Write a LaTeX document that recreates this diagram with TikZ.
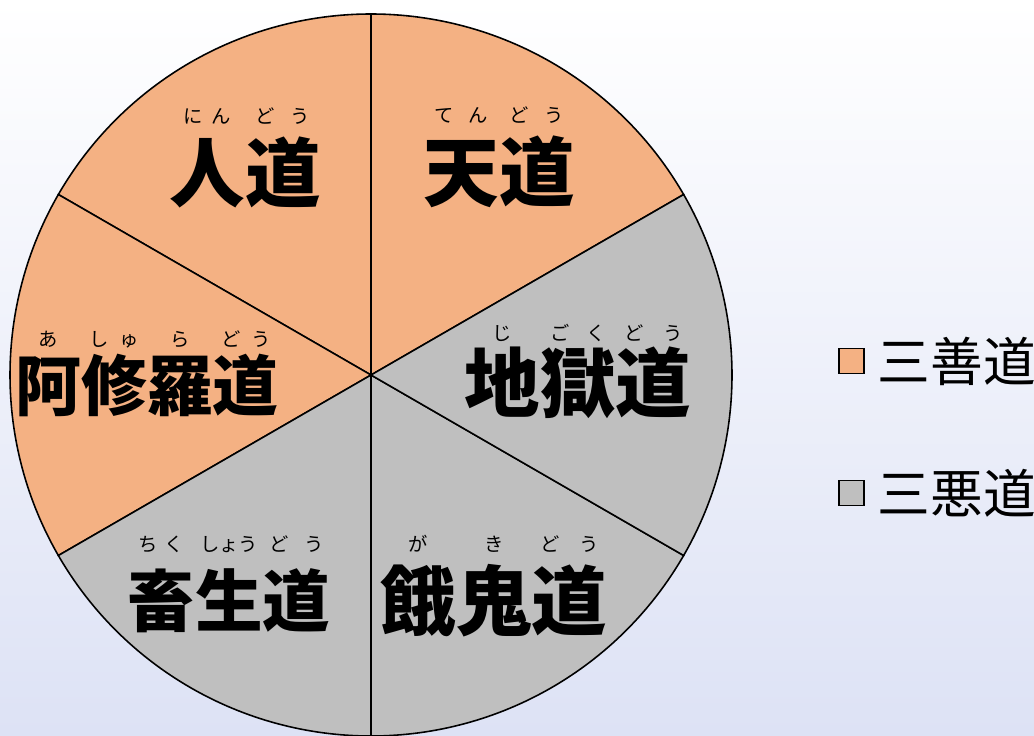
\documentclass[tikz,border=0pt]{standalone}
\usepackage{fontspec}
\newfontfamily\jp{Noto Sans CJK JP}
\usetikzlibrary{positioning}
\definecolor{zenorange}{RGB}{244,177,131}
\definecolor{akugray}{RGB}{191,191,191}
\definecolor{bglav}{RGB}{221,226,245}
% ruby: reading set centred above one kanji
\newcommand\rb[3][1.03em]{\setbox0\hbox{#2}\rlap{\makebox[\wd0]{\raisebox{#1}[0pt][0pt]{\fontsize{11}{11}\selectfont\mdseries #3}}}\box0}

\begin{document}
\begin{tikzpicture}[x=0.02cm,y=0.02cm,
    sector/.style={draw=black,line width=0.9pt},
    michi/.style={inner sep=0pt,font=\jp\bfseries\fontsize{43}{43}\selectfont},
    legbox/.style={draw=black,line width=0.6pt,minimum size=0.5cm,inner sep=0pt},
    legtext/.style={inner sep=0pt,font=\jp\fontsize{30}{30}\selectfont}]
    \shade[top color=white,bottom color=bglav] (0,0) rectangle (1034,735);
    \useasboundingbox (0,0) rectangle (1034,735);
    \coordinate (o) at (371,360);
    % six sectors of the wheel
    \foreach \a/\c in {30/zenorange,90/zenorange,150/zenorange,210/akugray,270/akugray,330/akugray}
        \filldraw[fill=\c,sector] (o) -- ++(\a:361) arc[start angle=\a,end angle=\a+60,radius=361] -- cycle;
    \node[michi] (ningen) at (245,563) {\rb{人}{に\hspace{.45em}ん}\rb{道}{ど\hspace{.8em}う}};
    \node[michi] (ten) at (499,563) {\rb{天}{て\hspace{.75em}ん}\rb{道}{ど\hspace{.85em}う}};
    \node[michi,font=\jp\bfseries\fontsize{37.5}{37.5}\selectfont] (ashura) at (147,350)
        {\rb[.96em]{阿}{あ}\rb[.96em]{修}{し\hspace{.55em}ゅ}\rb[.96em]{羅}{ら}\rb[.96em]{道}{ど\hspace{.55em}う}};
    \node[michi] (jigoku) at (578,352) {\rb[.94em]{地}{じ}\rb[.94em]{獄}{ご\hspace{.85em}く}\rb[.94em]{道}{ど\hspace{1em}う}};
    \node[michi,font=\jp\bfseries\fontsize{38.5}{38.5}\selectfont] (chikusho) at (229,134)
        {\rb[1.12em]{畜}{ち\hspace{.35em}く}\rb[1.12em]{生}{しょう}\rb[1.12em]{道}{ど\hspace{.85em}う}};
    \node[michi] (gaki) at (494,134) {\rb[1.04em]{餓}{が}\rb[1.04em]{鬼}{き}\rb[1.04em]{道}{ど\hspace{1em}う}};
    % legend
    \node[legbox,fill=zenorange] (zen) at (851.5,374) {};
    \node[legtext,right=0.26cm of zen] (zentext) {三善道};
    \node[legbox,fill=akugray] (aku) at (851.5,242) {};
    \node[legtext,right=0.26cm of aku] (akutext) {三悪道};
\end{tikzpicture}
\end{document}
